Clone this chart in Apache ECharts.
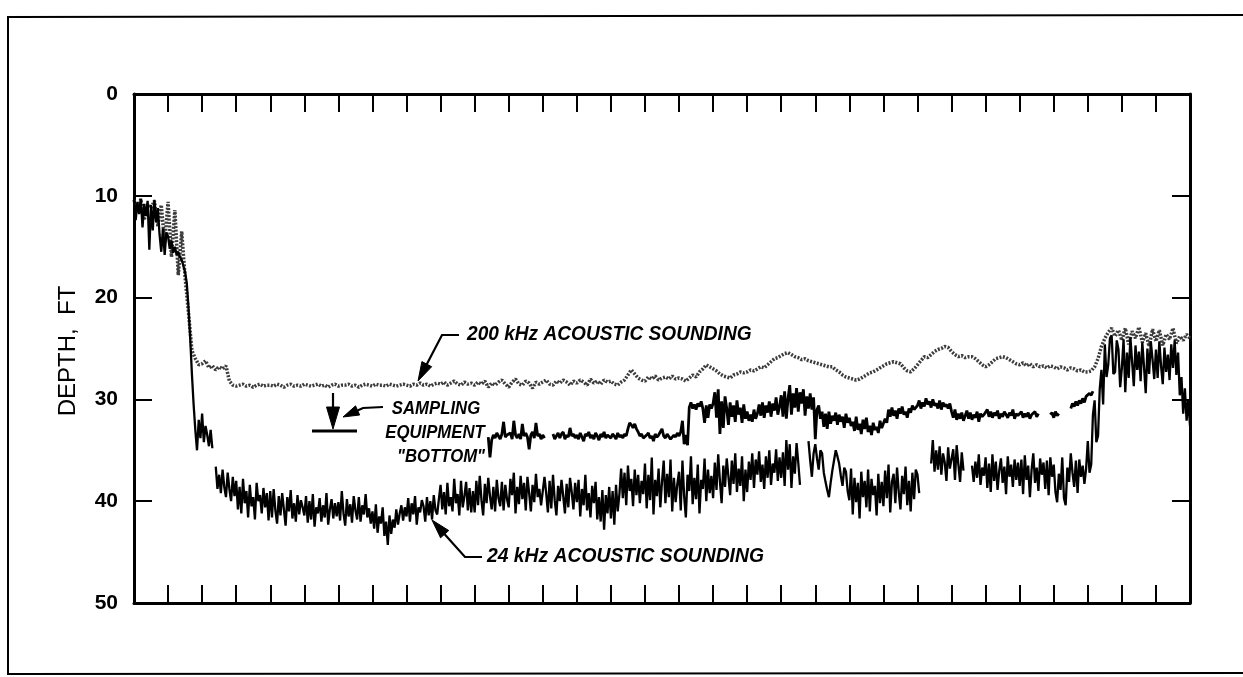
<!DOCTYPE html>
<html>
<head>
<meta charset="utf-8">
<script src="https://cdn.jsdelivr.net/npm/echarts@6/dist/echarts.min.js"></script>
<style>
html,body{margin:0;padding:0;background:#fff;}
#chart{width:1243px;height:677px;}
</style>
</head>
<body>
<div id="chart"></div>
<script>
// ---- data: x in chart units along the track, depth in feet ----
const yTicks = [0, 10, 20, 30, 40, 50];

// 24 kHz acoustic sounding, x from 0, every 0.05
const khz24Start = 0;
const khz24Step = 0.05;
const khz24Depth = [
 10.2,12.4,10.6,11.8,10.3,13.1,10.8,12.0,10.5,15.3,10.9,13.4,10.4,12.6,11.2,13.8,15.5,13.2,15.8,13.6,
 14.0,15.2,14.4,15.6,15.0,15.8,15.5,16.0,16.3,16.9,17.5,18.6,21.0,24.0,27.5,30.5,33.0,35.0,32.0,33.8,
 31.4,34.2,32.6,33.5,34.6,33.0,34.8,null,36.6,38.8,37.4,39.2,36.9,38.6,39.6,37.2,38.8,40.0,37.6,39.5,
 38.0,40.8,38.6,41.2,37.8,40.2,39.0,41.6,38.4,40.5,39.6,41.8,38.2,40.0,39.4,41.2,38.7,40.6,39.2,41.9,
 39.0,41.6,38.8,40.9,42.2,39.5,41.4,39.2,40.8,42.4,39.6,41.0,38.9,41.7,40.2,42.0,39.4,41.3,39.9,40.6,
 41.4,39.5,42.1,40.0,41.8,39.3,42.5,40.6,41.2,39.7,42.0,40.4,41.6,39.2,42.3,40.8,39.8,41.7,40.2,41.5,
 40.1,41.9,39.0,41.2,42.4,39.8,41.5,40.3,42.1,39.5,40.9,41.8,39.6,42.0,40.4,41.3,39.3,41.6,40.7,42.2,
 41.0,42.7,40.3,43.1,41.5,42.2,40.6,43.4,42.0,44.3,41.4,43.2,41.8,42.6,40.8,42.3,41.2,40.4,41.9,40.6,
 41.5,39.7,42.0,40.2,41.3,39.5,42.3,40.6,41.1,39.9,40.5,42.0,39.6,41.4,40.0,41.8,39.4,40.9,41.3,39.8,
 38.4,40.8,39.1,41.3,38.2,40.5,39.6,41.0,37.8,40.2,39.3,41.4,38.0,40.6,39.5,38.1,40.9,38.7,41.1,39.0,
 41.1,38.0,40.4,37.5,39.9,41.4,38.3,40.2,37.7,39.5,40.8,38.6,41.0,37.9,39.7,40.5,38.1,40.9,38.4,39.8,
 40.6,37.8,39.4,37.2,41.2,38.6,40.3,37.5,39.8,38.2,40.9,37.6,39.2,41.0,38.4,40.1,37.3,39.6,38.8,40.4,
 40.4,37.6,39.2,41.1,38.0,40.7,37.4,39.9,41.4,38.5,40.0,37.9,39.5,41.2,38.3,40.6,37.7,39.1,40.8,38.2,
 40.1,37.9,41.5,38.8,40.4,37.4,40.9,39.2,41.6,38.5,40.2,38.1,41.8,39.6,42.0,38.9,42.8,39.4,41.2,38.6,
 41.7,39.0,42.3,38.4,41.0,39.3,36.8,39.7,37.2,40.4,36.5,39.0,37.8,40.5,36.9,39.4,37.4,40.2,38.0,39.3,
 36.3,40.7,37.4,39.9,35.7,41.3,37.9,39.5,36.8,40.6,38.1,36.0,40.2,37.3,39.6,35.9,41.0,37.7,40.1,38.3,
 37.1,40.9,36.0,39.5,41.6,37.4,39.0,35.6,40.3,37.7,39.8,36.4,41.2,37.9,38.8,35.8,40.0,36.9,39.2,37.5,
 39.7,36.2,38.9,35.4,38.0,40.2,36.5,38.6,35.8,37.6,39.4,36.0,38.3,35.3,39.1,36.8,38.5,35.6,40.0,36.9,
 39.1,36.1,37.9,35.3,38.7,35.9,37.4,35.1,38.1,36.4,38.8,35.6,37.7,35.0,38.4,36.3,37.2,34.9,38.0,35.7,
 37.7,35.2,38.5,34.0,36.9,34.4,38.7,35.6,37.3,34.3,36.2,38.4,null,null,null,null,34.1,36.0,37.6,35.3,
 34.4,35.8,36.9,35.0,35.3,37.2,38.1,38.9,39.6,38.2,37.0,36.0,35.0,35.6,36.3,37.5,38.5,36.7,37.1,39.0,
 39.9,36.8,41.3,37.7,40.1,38.2,41.7,37.1,39.6,38.0,40.6,36.9,41.0,37.8,39.4,38.5,41.4,37.3,40.2,38.1,
 40.5,37.0,39.7,36.4,41.1,38.1,37.3,40.2,36.7,39.1,40.8,37.5,39.3,36.6,40.4,38.0,41.0,37.2,39.8,36.9,
 37.4,39.2,null,null,null,null,null,null,36.3,34.0,37.1,35.0,36.9,34.6,37.4,35.3,36.2,38.0,34.7,36.8,
 36.8,34.9,37.9,34.5,36.4,38.1,35.2,37.0,null,null,null,null,36.5,38.1,36.1,37.7,35.4,38.4,36.7,37.5,
 35.7,38.7,36.3,39.1,35.4,38.0,36.1,38.9,37.0,35.8,38.2,36.6,39.3,35.6,37.6,36.4,38.6,35.9,37.9,36.2,
 38.5,35.9,39.3,35.5,37.9,36.5,39.6,36.9,35.3,38.2,36.7,39.0,35.8,37.4,36.2,38.8,36.0,39.4,35.7,37.6,
 36.4,39.1,40.1,37.3,38.9,35.7,39.7,40.4,36.7,38.1,35.3,37.2,38.6,36.0,39.2,35.9,37.6,36.5,38.3,36.8,
 34.1,37.2,36.4,31.5,30.1,34.2,33.6,29.0,27.1,30.5,24.6,27.8,26.6,24.0,23.7,27.5,27.3,24.2,25.1,28.8,
 26.9,24.1,29.3,25.4,27.9,23.9,26.3,28.7,24.7,27.1,25.3,28.2,24.4,26.8,29.4,25.0,27.5,24.3,26.1,28.0,
 25.1,27.9,24.3,26.7,28.5,24.9,27.3,25.6,28.1,24.6,26.9,24.2,27.6,25.4,29.6,27.8,31.4,28.9,32.1,30.0,
 32.6
];

// 200 kHz acoustic sounding, x from 0, every 0.1
const khz200Start = 0;
const khz200Step = 0.1;
const khz200Depth = [
 10.4,11.6,10.3,12.4,10.8,11.2,10.5,13.0,10.9,14.6,
 10.6,16.0,11.4,17.8,13.5,18.0,21.5,25.2,26.0,26.6,
 26.5,26.2,26.9,26.7,27.1,26.8,27.0,26.7,28.2,28.6,
 28.7,28.6,28.5,28.7,28.6,28.8,28.6,28.5,28.7,28.6,
 28.6,28.7,28.5,28.6,28.8,28.6,28.5,28.7,28.6,28.7,
 28.5,28.6,28.7,28.6,28.5,28.7,28.6,28.8,28.6,28.5,
 28.7,28.6,28.6,28.5,28.7,28.6,28.8,28.6,28.5,28.6,
 28.7,28.5,28.6,28.6,28.7,28.5,28.6,28.7,28.6,28.5,
 28.6,28.7,28.5,28.6,28.4,28.6,28.5,28.7,28.5,28.4,
 28.5,28.3,28.6,28.4,28.2,28.5,28.6,28.3,28.5,28.4,
 28.6,28.3,28.5,28.2,28.8,28.4,28.6,28.3,28.1,28.5,
 28.8,28.3,28.0,28.5,28.6,28.2,28.4,28.9,28.3,28.5,
 28.3,28.1,28.5,28.6,28.2,28.4,28.1,28.3,28.6,28.2,
 28.4,28.1,28.3,28.6,28.0,28.4,28.2,28.5,28.1,28.3,
 28.2,28.5,28.6,28.3,28.1,27.6,27.1,27.5,27.9,28.1,
 28.2,27.8,28.0,27.7,28.1,27.9,27.8,28.0,27.7,28.0,
 27.9,28.0,28.2,27.9,27.6,27.8,27.3,27.0,26.6,26.8,
 27.0,27.2,27.5,27.7,27.8,27.9,27.6,27.5,27.3,27.4,
 27.3,27.1,27.2,27.0,26.8,26.9,26.6,26.3,26.0,25.9,
 25.7,25.5,25.4,25.6,25.8,25.9,26.1,26.0,26.2,26.3,
 26.4,26.5,26.6,26.7,26.8,26.8,27.1,27.3,27.6,27.8,
 27.9,28.0,28.1,28.0,27.8,27.6,27.4,27.3,27.1,26.9,
 26.7,26.5,26.4,26.3,26.4,26.5,26.9,27.2,27.3,27.0,
 26.6,26.2,25.8,25.9,25.6,25.3,25.1,25.0,24.8,24.9,
 25.3,25.6,25.8,25.7,25.9,25.8,25.8,26.0,26.3,26.6,
 26.8,26.6,26.3,26.0,25.9,25.8,25.9,26.1,26.3,26.5,
 26.6,26.4,26.7,26.5,26.8,26.6,26.8,26.7,26.9,26.7,
 26.8,27.0,26.8,26.9,27.1,26.9,27.0,27.2,27.1,27.3,
 27.3,27.2,26.8,26.0,24.8,24.0,23.4,23.0,23.8,23.2,
 24.2,23.0,24.6,23.3,24.0,22.9,24.4,23.5,24.8,23.1,
 24.3,23.2,24.7,23.6,24.1,23.0,24.5,23.8,24.2,23.6,
 24.0
];

// Sampling equipment "bottom", x from 10.4, every 0.05
const samplingStart = 10.4;
const samplingStep = 0.05;
const samplingDepth = [
 33.7,35.7,34.0,33.5,33.8,33.3,33.6,33.9,33.4,32.2,33.7,33.5,
 33.6,33.3,33.9,32.1,33.5,33.8,33.4,33.9,32.4,33.6,33.3,33.7,34.9,33.5,33.2,33.8,32.3,33.6,33.4,33.9,
 33.5,33.8,null,null,null,null,33.4,33.9,33.6,33.3,33.8,33.4,33.2,33.9,33.5,33.7,32.8,33.6,33.4,33.8,
 33.5,33.9,33.3,33.7,34.1,33.4,33.6,33.2,33.8,33.5,33.9,33.3,33.6,34.0,33.4,33.7,33.2,33.8,33.5,33.6,
 33.8,33.4,33.6,33.9,33.3,33.7,33.5,33.8,33.4,33.6,32.9,32.3,32.5,32.8,32.4,32.9,33.2,33.6,33.4,33.8,
 33.9,33.5,33.3,33.8,33.6,34.1,33.4,33.7,33.5,33.2,32.9,33.6,33.8,33.4,33.3,33.9,34.0,33.5,33.7,33.3,
 33.6,33.2,32.1,34.4,33.5,34.5,30.8,30.3,30.9,30.5,31.0,30.4,30.7,30.2,30.9,32.3,30.6,31.8,30.5,30.9,
 30.4,29.3,31.8,29.0,33.4,30.2,32.8,29.7,30.9,32.5,30.3,31.7,30.6,32.2,30.1,31.5,30.8,32.3,30.5,31.9,
 31.2,32.1,31.5,32.2,31.0,31.9,31.4,30.5,31.6,30.3,31.8,30.6,31.3,30.2,31.7,30.4,31.1,29.8,31.5,30.7,
 29.6,31.7,29.2,31.9,29.9,28.6,31.5,29.4,30.8,28.9,31.2,29.3,30.4,29.0,31.6,29.7,30.9,29.4,31.0,29.8,
 33.9,31.0,30.6,31.9,31.2,32.7,31.4,32.9,31.2,32.4,31.6,32.1,31.3,32.5,31.5,32.2,31.7,32.8,31.4,32.3,
 31.8,32.6,32.2,33.1,31.7,33.0,32.4,33.4,32.0,32.9,31.8,33.2,32.6,33.5,32.3,33.0,32.7,33.3,32.1,32.8,
 32.9,31.9,32.3,31.0,31.7,30.8,31.6,31.1,31.9,30.9,31.4,30.7,31.5,31.2,31.8,30.9,31.3,30.6,31.0,30.8,
 30.6,30.1,30.9,30.3,30.7,29.9,30.5,30.2,30.8,30.0,30.6,30.4,30.9,30.1,31.0,30.3,30.7,30.5,30.9,30.4,
 31.2,31.8,31.0,32.0,31.4,31.9,31.3,32.1,31.6,31.1,31.9,31.3,32.0,31.5,31.8,31.2,32.2,31.4,31.7,31.5,
 31.4,31.0,31.7,31.2,31.8,31.3,31.6,31.1,31.9,31.4,31.7,31.2,31.5,31.8,31.3,31.6,31.0,31.9,31.4,31.6,
 31.6,31.2,31.8,31.4,31.7,31.3,31.9,31.5,31.6,31.2,31.7,31.4,null,null,null,null,null,null,31.5,31.3,
 31.8,31.2,31.6,31.4,null,null,null,null,null,null,30.9,30.4,30.7,30.2,30.6,30.1,30.4,29.9,30.3,29.7,
 29.8,29.4,29.6,29.2
];

function toPairs(start, step, values) {
  return values.map(function (v, i) {
    return [Math.round((start + i * step) * 100) / 100, v];
  });
}

const chart = echarts.init(document.getElementById('chart'), null, {renderer: 'canvas'});

function arrowHead(tip, from, L, w) {
  const dx = tip[0] - from[0], dy = tip[1] - from[1];
  const len = Math.sqrt(dx * dx + dy * dy);
  const ux = dx / len, uy = dy / len;
  const bx = tip[0] - ux * L, by = tip[1] - uy * L;
  const nx = -uy, ny = ux;
  return {base: [bx, by], points: [tip, [bx + nx * w, by + ny * w], [bx - nx * w, by - ny * w]]};
}

function arrow(pts, L, w) {
  const tip = pts[pts.length - 1];
  const prev = pts[pts.length - 2];
  const h = arrowHead(tip, prev, L, w);
  const shaft = pts.slice(0, pts.length - 1).concat([h.base]);
  return [
    {type: 'polyline', shape: {points: shaft}, style: {stroke: '#000', lineWidth: 2.2, fill: null}, z: 100},
    {type: 'polygon', shape: {points: h.points}, style: {fill: '#000', stroke: '#000', lineWidth: 1}, z: 100}
  ];
}

const annoFont = 'italic bold 21px "Liberation Sans", Arial, sans-serif';
const smallFont = 'italic bold 18px "Liberation Sans", Arial, sans-serif';

const graphics = [
  {type: 'polyline', shape: {points: [[1243, 15], [8, 17], [8, 674], [1243, 673]]}, style: {stroke: '#000', lineWidth: 2, fill: null}, z: 50},
  {type: 'text', x: 68, y: 351, rotation: Math.PI / 2,
   style: {text: 'DEPTH,  FT', font: '24px "Liberation Sans", Arial, sans-serif', fill: '#000', align: 'center', verticalAlign: 'middle'}, z: 100},
  {type: 'text', x: 467, y: 334, scaleX: 0.91,
   style: {text: '200 kHz ACOUSTIC SOUNDING', font: annoFont, fill: '#000', align: 'left', verticalAlign: 'middle'}, z: 100},
  {type: 'text', x: 487, y: 556, scaleX: 0.92,
   style: {text: '24 kHz ACOUSTIC SOUNDING', font: annoFont, fill: '#000', align: 'left', verticalAlign: 'middle'}, z: 100},
  {type: 'text', x: 436, y: 409, scaleX: 0.93,
   style: {text: 'SAMPLING', font: smallFont, fill: '#000', align: 'center', verticalAlign: 'middle'}, z: 100},
  {type: 'text', x: 435, y: 433, scaleX: 0.93,
   style: {text: 'EQUIPMENT', font: smallFont, fill: '#000', align: 'center', verticalAlign: 'middle'}, z: 100},
  {type: 'text', x: 441, y: 457, scaleX: 0.93,
   style: {text: '"BOTTOM"', font: smallFont, fill: '#000', align: 'center', verticalAlign: 'middle'}, z: 100},
  {type: 'line', shape: {x1: 312, y1: 431, x2: 357, y2: 431}, style: {stroke: '#000', lineWidth: 3}, z: 100}
]
.concat(arrow([[459, 335], [442, 335], [418, 381]], 19, 5.5))
.concat(arrow([[482, 557], [465, 557], [432, 520]], 19, 5.5))
.concat(arrow([[383, 407], [363, 408], [343, 417]], 16, 5))
.concat(arrow([[333, 393], [333, 429]], 22, 6.5));

const axisLineStyle = {onZero: false, lineStyle: {color: '#000', width: 3}};
const tickStyle = {inside: true, length: 18, lineStyle: {color: '#000', width: 2}};

const option = {
  animation: false,
  backgroundColor: '#fff',
  grid: {left: 134, right: 53, top: 94, bottom: 74, containLabel: false},
  xAxis: [
    {type: 'value', min: 0, max: 31, interval: 1, position: 'bottom',
     axisLine: axisLineStyle, axisTick: tickStyle, axisLabel: {show: false}, splitLine: {show: false}},
    {type: 'value', min: 0, max: 31, interval: 1, position: 'top',
     axisLine: axisLineStyle, axisTick: tickStyle, axisLabel: {show: false}, splitLine: {show: false}}
  ],
  yAxis: [
    {type: 'value', min: 0, max: 50, interval: 10, inverse: true, position: 'left',
     axisLine: axisLineStyle, axisTick: tickStyle, splitLine: {show: false},
     axisLabel: {show: true, color: '#000', fontSize: 21, fontWeight: 'bold',
                 fontFamily: '"Liberation Sans", Arial, sans-serif', margin: 16,
                 formatter: function (v) { return yTicks.indexOf(v) >= 0 ? String(v) : ''; }}},
    {type: 'value', min: 0, max: 50, interval: 10, inverse: true, position: 'right',
     axisLine: axisLineStyle, axisTick: tickStyle, axisLabel: {show: false}, splitLine: {show: false}}
  ],
  series: [
    {name: '200 kHz acoustic sounding', type: 'line', xAxisIndex: 0, yAxisIndex: 0,
     data: toPairs(khz200Start, khz200Step, khz200Depth), showSymbol: false, connectNulls: false,
     lineStyle: {color: '#3c3c3c', width: 3.5, type: [2, 1.5]}, z: 3},
    {name: 'Sampling equipment bottom', type: 'line', xAxisIndex: 0, yAxisIndex: 0,
     data: toPairs(samplingStart, samplingStep, samplingDepth), showSymbol: false, connectNulls: false,
     lineStyle: {color: '#000', width: 2.8}, z: 4},
    {name: '24 kHz acoustic sounding', type: 'line', xAxisIndex: 0, yAxisIndex: 0,
     data: toPairs(khz24Start, khz24Step, khz24Depth), showSymbol: false, connectNulls: false,
     lineStyle: {color: '#000', width: 2.3}, z: 5}
  ],
  graphic: {elements: graphics}
};

chart.setOption(option);
</script>
</body>
</html>
